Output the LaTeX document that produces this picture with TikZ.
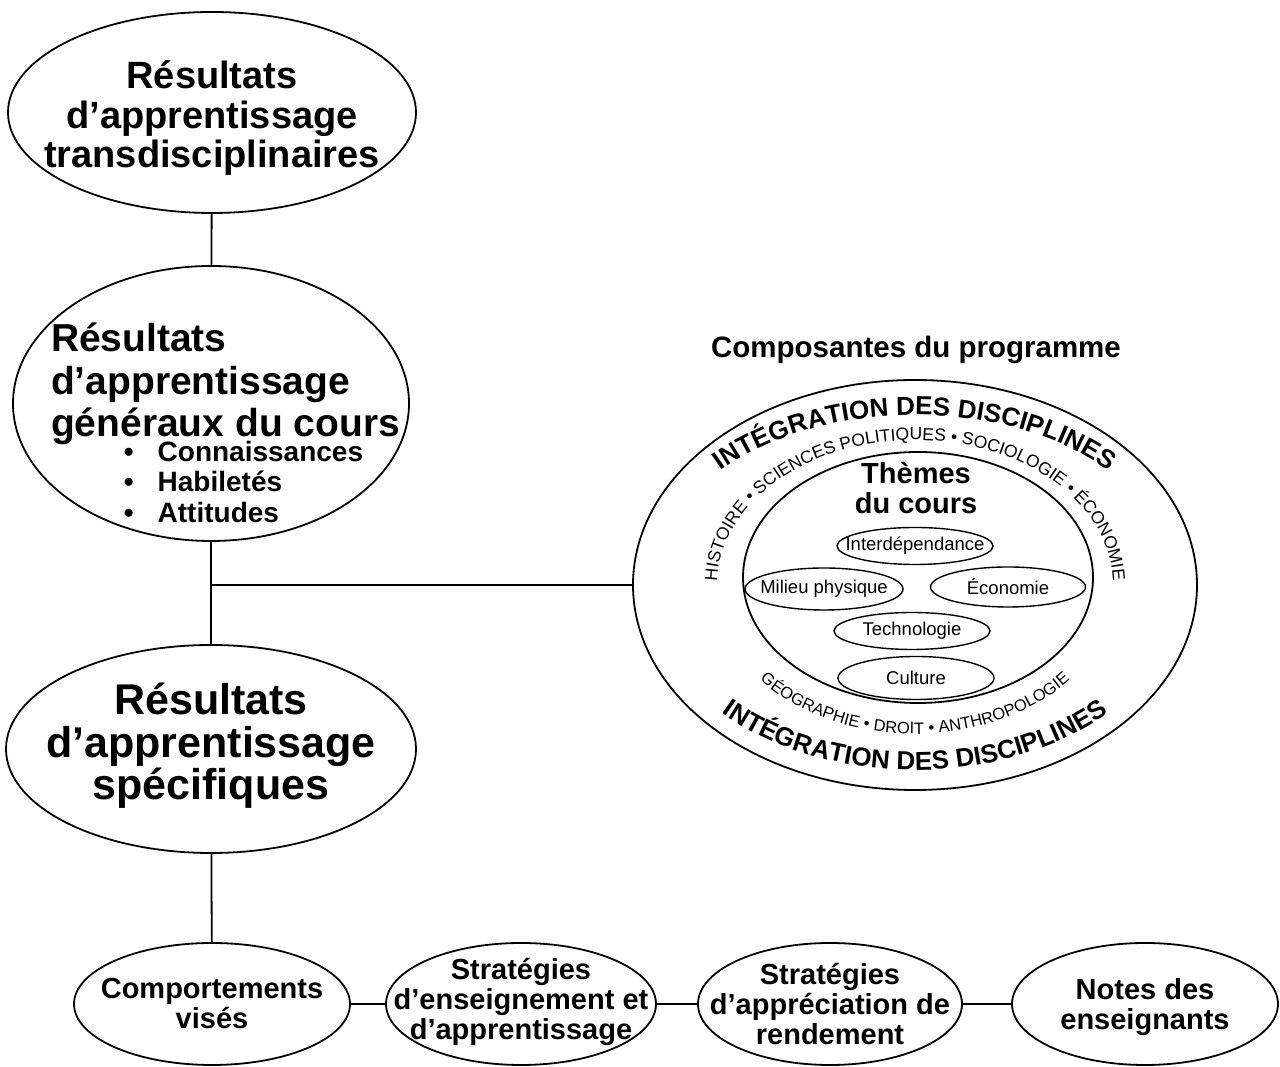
\documentclass[tikz,border=0pt]{standalone}
\usepackage{fontspec}
\setmainfont{Liberation Sans}
\usetikzlibrary{shapes.geometric,decorations.text}

\newcommand\arcbold{\bfseries\fontsize{26}{26}\selectfont}
\newcommand\arcup{\fontsize{17.5}{18}\selectfont}
\newcommand\arcdown{\fontsize{16.5}{17}\selectfont}

\begin{document}
\begin{tikzpicture}[x=1pt,y=1pt,line width=1.8pt,
  big node/.style={ellipse,draw,inner sep=0pt},
  theme node/.style={ellipse,draw,line width=1.4pt,inner xsep=-20pt,inner ysep=0pt,minimum width=156pt,minimum height=38pt,font=\fontsize{18.5}{19}\selectfont},
  top text/.style={align=center,font=\bfseries\fontsize{38}{39.5}\selectfont},
  gen text/.style={align=left,font=\bfseries\fontsize{39}{42.5}\selectfont},
  list text/.style={align=left,font=\bfseries\fontsize{28}{30.5}\selectfont},
  spec text/.style={align=center,font=\bfseries\fontsize{43}{42.5}\selectfont},
  row text/.style={align=center,font=\bfseries\fontsize{29}{30}\selectfont}]
\useasboundingbox (0,0) rectangle (1280,1067);

  % left column
  \node[big node,minimum width=408pt,minimum height=201pt,
    label={[top text,yshift=-6pt]center:Résultats\\d’apprentissage\\transdisciplinaires}] (e1) at (212,954.5) {};
  \node[big node,minimum width=396pt,minimum height=275pt,
    label={[gen text,xshift=14.5pt,yshift=19.5pt]center:Résultats\\d’apprentissage\\généraux du cours},
    label={[list text,xshift=32.5pt,yshift=-78.5pt]center:\textbullet\hspace{24pt}Connaissances\\\textbullet\hspace{24pt}Habiletés\\\textbullet\hspace{24pt}Attitudes}] (e2) at (211,663.5) {};
  \node[big node,minimum width=410pt,minimum height=208pt,
    label={[spec text,yshift=3pt]center:Résultats\\d’apprentissage\\spécifiques}] (e3) at (211,318) {};

  % bottom row
  \node[big node,minimum width=276pt,minimum height=122pt,
    label={[row text]center:Comportements\\visés}] (e4) at (212,63) {};
  \node[big node,minimum width=270pt,minimum height=122pt,
    label={[row text,yshift=2pt]center:Stratégies\\d’enseignement et\\d’apprentissage}] (e5) at (521,63) {};
  \node[big node,minimum width=264pt,minimum height=122pt,
    label={[row text]center:Stratégies\\d’appréciation de\\rendement}] (e6) at (830,63) {};
  \node[big node,minimum width=266pt,minimum height=122pt,
    label={[row text,yshift=-3pt]center:Notes des\\enseignants}] (e7) at (1145,63) {};

  % program components
  \node[anchor=base,font=\bfseries\fontsize{29.5}{30}\selectfont] (title) at (916,709) {Composantes du programme};
  \node[big node,minimum width=564pt,minimum height=410pt] (outer) at (915,482) {};
  \node[big node,minimum width=350pt,minimum height=251pt] (inner) at (918,489.5) {};
  \node[align=center,font=\bfseries\fontsize{29}{30}\selectfont] (themes) at (916,579) {Thèmes\\du cours};
  \node[theme node,minimum height=37pt] (interdep) at (915,521) {Interdépendance};
  \node[theme node,minimum width=158pt,minimum height=42pt] (milieu) at (824,478) {Milieu physique};
  \node[theme node,minimum width=155pt,minimum height=40pt] (econ) at (1008,480) {Économie};
  \node[theme node,minimum height=37pt] (techno) at (912,436) {Technologie};
  \node[theme node,minimum height=43pt] (culture) at (916,389) {Culture};

  \path[decorate,decoration={text along path,text align=center,
      text={|\arcbold|INTÉGRATION DES DISCIPLINES}}]
    ([shift={(180:262pt and 170pt)}]outer.center) arc[start angle=180,end angle=0,x radius=262pt,y radius=170pt];
  \path[decorate,decoration={text along path,text align=center,
      text={|\arcup|HISTOIRE • SCIENCES POLITIQUES • SOCIOLOGIE • ÉCONOMIE}}]
    ([shift={(190:198pt and 145pt)}]outer.center) arc[start angle=190,end angle=-10,x radius=198pt,y radius=145pt];
  \path[decorate,decoration={text along path,text align=center,
      text={|\arcdown|GÉOGRAPHIE • DROIT • ANTHROPOLOGIE}}]
    ([shift={(200:201pt and 149pt)}]outer.center) arc[start angle=200,end angle=340,x radius=201pt,y radius=149pt];
  \path[decorate,decoration={text along path,text align=center,
      text={|\arcbold|INTÉGRATION DES DISCIPLINES}}]
    ([shift={(200:268pt and 185pt)}]outer.center) arc[start angle=200,end angle=340,x radius=268pt,y radius=185pt];

  \coordinate (jn) at (e2.south |- outer.west);

\path
  (e1) edge (e2)
  (e2) edge (e3)
  (e3) edge (e4)
  (jn) edge (outer)
  (e4) edge (e5)
  (e5) edge (e6)
  (e6) edge (e7)
;
\end{tikzpicture}
\end{document}
